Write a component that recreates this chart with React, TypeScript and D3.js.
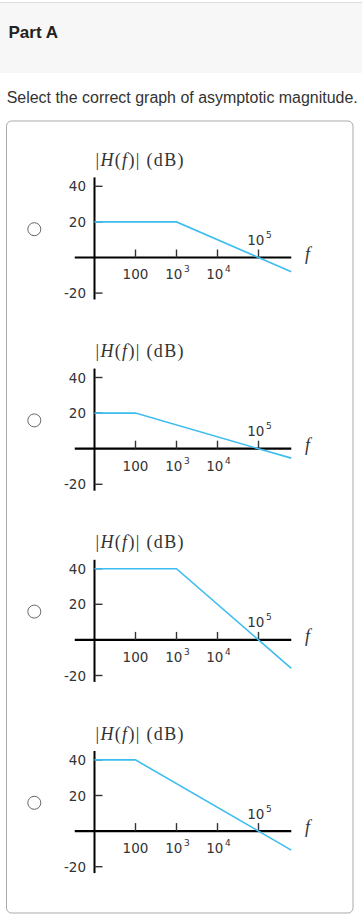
import React from "react";
import * as d3 from "d3";

const W = 362;
const H = 918;

// dB ticks on the vertical axis
const dbTicks = [40, 20, -20];
// frequency ticks on the horizontal axis
const freqTicks = [100, 1e3, 1e4, 1e5];
const freqBase = ["100", "10", "10", "10"];
const freqExp = ["", "3", "4", "5"];
const freqAbove = [false, false, false, true];

// four answer options: low-frequency gain, corner frequency, gain at right end
const lowGains = [20, 20, 40, 40];
const cornerFreqs = [1e3, 100, 1e3, 100];
const crossFreq = 1e5;
const endFreq = 6.3e5;
const endGains = [-8, -5.3, -16, -10.7];

const startFreq = 10;
const xAxisExtent = [3.3, 6.3e5];
const yAxisExtent = [-23.6, 45];

const graphTops = [257.5, 448.7, 639.9, 831.1];

const x = d3.scaleLog().domain([10, 1e5]).range([94.5, 258.5]);

function Graph({ i }: { i: number }) {
  const y0 = graphTops[i];
  const y = d3.scaleLinear().domain([-20, 0, 40]).range([y0 + 35.6, y0, y0 - 71.2]);
  const pts: [number, number][] = [
    [startFreq, lowGains[i]],
    [cornerFreqs[i], lowGains[i]],
    [crossFreq, 0],
    [endFreq, endGains[i]],
  ];
  const line = d3
    .line<[number, number]>()
    .x((d) => x(d[0]))
    .y((d) => y(d[1]));
  const ax = x(10);
  return (
    <g>
      <circle cx={34.3} cy={y0 - 28.3} r={6.5} fill="#fff" stroke="#666" strokeWidth={1} />
      <text
        x={ax + 1}
        y={y0 - 91.5}
        fontFamily="'Liberation Serif', 'Times New Roman', serif"
        fontSize={18}
        fill="#333"
        textLength={88}
        lengthAdjust="spacing"
      >
        |<tspan fontStyle="italic">H</tspan>(<tspan fontStyle="italic">f</tspan>)| (dB)
      </text>
      {/* y axis */}
      <line x1={ax} x2={ax} y1={y(yAxisExtent[0])} y2={y(yAxisExtent[1])} stroke="#000" strokeWidth={2} />
      {dbTicks.map((t) => (
        <g key={t}>
          <line x1={ax} x2={ax + 8} y1={y(t)} y2={y(t)} stroke="#333" strokeWidth={1.4} />
          <text
            x={ax - 8.5}
            y={y(t) + 5}
            textAnchor="end"
            fontFamily="'DejaVu Sans', Verdana, sans-serif"
            fontSize={13.5}
            fill="#333"
          >
            {t}
          </text>
        </g>
      ))}
      {/* x axis */}
      <line x1={x(xAxisExtent[0])} x2={x(xAxisExtent[1])} y1={y0} y2={y0} stroke="#000" strokeWidth={2.2} />
      {freqTicks.map((f, k) => (
        <g key={f}>
          <line x1={x(f)} x2={x(f)} y1={y0} y2={y0 - 8} stroke="#333" strokeWidth={1.4} />
          <text
            x={x(f) + (freqExp[k] ? 1 : 0)}
            y={freqAbove[k] ? y0 - 12.5 : y0 + 21.8}
            textAnchor="middle"
            fontFamily="'DejaVu Sans', Verdana, sans-serif"
            fontSize={13.5}
            fill="#333"
          >
            {freqBase[k]}
            {freqExp[k] ? (
              <tspan fontSize={9} dy={-7} dx={1.5}>
                {freqExp[k]}
              </tspan>
            ) : null}
          </text>
        </g>
      ))}
      <text
        x={305}
        y={y0 + 2}
        fontFamily="'Liberation Serif', 'Times New Roman', serif"
        fontStyle="italic"
        fontSize={18}
        fill="#333"
      >
        f
      </text>
      <path d={line(pts) || ""} fill="none" stroke="#3dbdef" strokeWidth={1.6} />
    </g>
  );
}

export default function App() {
  return (
    <div style={{ position: "absolute", left: 0, top: 0 }}>
      <svg width={W} height={H} style={{ display: "block" }}>
        <rect x={0} y={0} width={W} height={H} fill="#fff" />
        <rect x={0} y={3} width={W} height={70} fill="#f7f7f7" />
        <line x1={0} x2={W} y1={2.5} y2={2.5} stroke="#ddd" strokeWidth={1} />
        <text
          x={8.5}
          y={38.3}
          fontFamily="'Liberation Sans', Arial, sans-serif"
          fontWeight="bold"
          fontSize={17}
          fill="#222"
        >
          Part A
        </text>
        <text
          x={6.7}
          y={102.7}
          fontFamily="'Liberation Sans', Arial, sans-serif"
          fontSize={16}
          fill="#333"
          textLength={351}
          lengthAdjust="spacingAndGlyphs"
        >
          Select the correct graph of asymptotic magnitude.
        </text>
        <rect x={6.5} y={121} width={346.5} height={792} rx={5} fill="#fff" stroke="#aaa" strokeWidth={1} />
        {graphTops.map((_, i) => (
          <Graph key={i} i={i} />
        ))}
      </svg>
    </div>
  );
}
